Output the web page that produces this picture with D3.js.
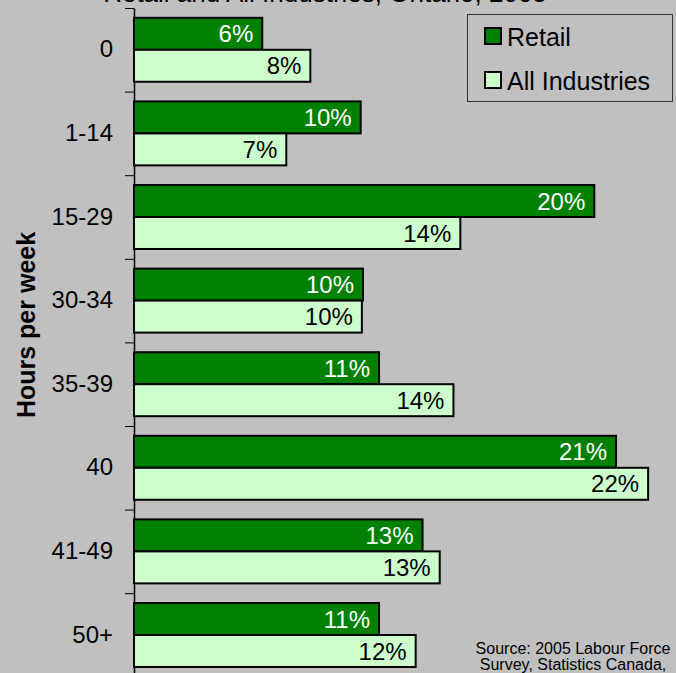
<!DOCTYPE html>
<html>
<head>
<meta charset="utf-8">
<script src="https://cdn.jsdelivr.net/npm/d3@7"></script>
<style>
  body { margin: 0; background: #c0c0c0; }
  svg { display: block; font-family: Arial, "Liberation Sans", sans-serif; }
</style>
</head>
<body>
<svg width="676" height="673"></svg>
<script>
var categories = ["0", "1-14", "15-29", "30-34", "35-39", "40", "41-49", "50+"];
var series = ["Retail", "All Industries"];
var retail = [5.6, 9.9, 20.1, 10.0, 10.7, 21.05, 12.6, 10.7];
var allIndustries = [7.7, 6.65, 14.25, 9.95, 13.95, 22.45, 13.35, 12.3];
var colors = ["#008000", "#ccffcc"];
var labelColors = ["#ffffff", "#000000"];

var svg = d3.select("svg"),
    width = +svg.attr("width"),
    height = +svg.attr("height");

svg.append("rect")
    .attr("width", width)
    .attr("height", height)
    .attr("fill", "#c0c0c0");

var data = categories.map(function(c, i) {
  return {cat: c, values: [retail[i], allIndustries[i]]};
});

var x0 = 134,
    step = 83.6,
    yTop = 8;

var x = d3.scaleLinear().domain([0, 25]).range([x0, x0 + 25 * 22.9]);

var y = d3.scaleBand()
    .domain(categories)
    .range([yTop, yTop + step * categories.length])
    .paddingInner(0.235)
    .paddingOuter(0.1175);

var y1 = d3.scaleBand().domain(d3.range(series.length)).range([0, y.bandwidth()]);

// title (cut off by the top edge)
svg.append("text")
    .attr("x", 325)
    .attr("y", 2)
    .attr("text-anchor", "middle")
    .style("font-size", "26px")
    .text("Retail and All Industries, Ontario, 2005");

// boundary ticks + axis line
var yIdx = d3.scaleLinear().domain([0, categories.length]).range([yTop, yTop + step * categories.length]);
var axisG = svg.append("g")
    .attr("transform", "translate(" + x0 + ",0)")
    .call(d3.axisLeft(yIdx).tickValues(d3.range(categories.length + 1)).tickFormat("").tickSize(9).tickSizeOuter(0));
axisG.select(".domain").attr("stroke", "#000").attr("stroke-width", 1.5);
axisG.selectAll(".tick line").attr("stroke", "#000");

// category labels
var labG = svg.append("g")
    .attr("transform", "translate(" + x0 + ",0)")
    .call(d3.axisLeft(y).tickSize(0).tickPadding(21));
labG.select(".domain").remove();
labG.selectAll("text")
    .attr("fill", "#000")
    .style("font-size", "24px")
    .style("font-family", "Arial, 'Liberation Sans', sans-serif");

// axis title
svg.append("text")
    .attr("transform", "translate(35,325) rotate(-90)")
    .attr("text-anchor", "middle")
    .style("font-size", "25px")
    .style("font-weight", "bold")
    .text("Hours per week");

// bars
var groups = svg.selectAll(".grp")
    .data(data)
  .enter().append("g")
    .attr("class", "grp")
    .attr("transform", function(d) { return "translate(0," + y(d.cat) + ")"; });

groups.selectAll("rect")
    .data(function(d) { return d.values; })
  .enter().append("rect")
    .attr("x", x(0))
    .attr("y", function(d, i) { return y1(i); })
    .attr("width", function(d) { return x(d) - x(0); })
    .attr("height", y1.bandwidth())
    .attr("fill", function(d, i) { return colors[i]; })
    .attr("stroke", "#000")
    .attr("stroke-width", 2);

groups.selectAll("text")
    .data(function(d) { return d.values; })
  .enter().append("text")
    .attr("x", function(d) { return x(d) - 9; })
    .attr("y", function(d, i) { return y1(i) + y1.bandwidth() / 2; })
    .attr("dy", "0.36em")
    .attr("text-anchor", "end")
    .attr("fill", function(d, i) { return labelColors[i]; })
    .style("font-size", "24px")
    .text(function(d) { return d3.format(".0f")(d) + "%"; });

// legend
var legend = svg.append("g").attr("transform", "translate(467,14)");
legend.append("rect")
    .attr("x", 0.5).attr("y", 0.5)
    .attr("width", 205).attr("height", 87)
    .attr("fill", "none")
    .attr("stroke", "#333")
    .attr("stroke-width", 1);

var items = legend.selectAll(".item")
    .data(series)
  .enter().append("g")
    .attr("class", "item")
    .attr("transform", function(d, i) { return "translate(0," + (i * 44) + ")"; });

items.append("rect")
    .attr("x", 18).attr("y", 14)
    .attr("width", 16).attr("height", 16)
    .attr("fill", function(d, i) { return colors[i]; })
    .attr("stroke", "#000")
    .attr("stroke-width", 2);

items.append("text")
    .attr("x", 40)
    .attr("y", 32)
    .style("font-size", "25px")
    .text(function(d) { return d; });

// source note
var src = svg.append("text")
    .attr("text-anchor", "middle")
    .style("font-size", "16px");
src.append("tspan").attr("x", 573).attr("y", 654).text("Source: 2005 Labour Force");
src.append("tspan").attr("x", 573).attr("y", 670).text("Survey, Statistics Canada,");
</script>
</body>
</html>
